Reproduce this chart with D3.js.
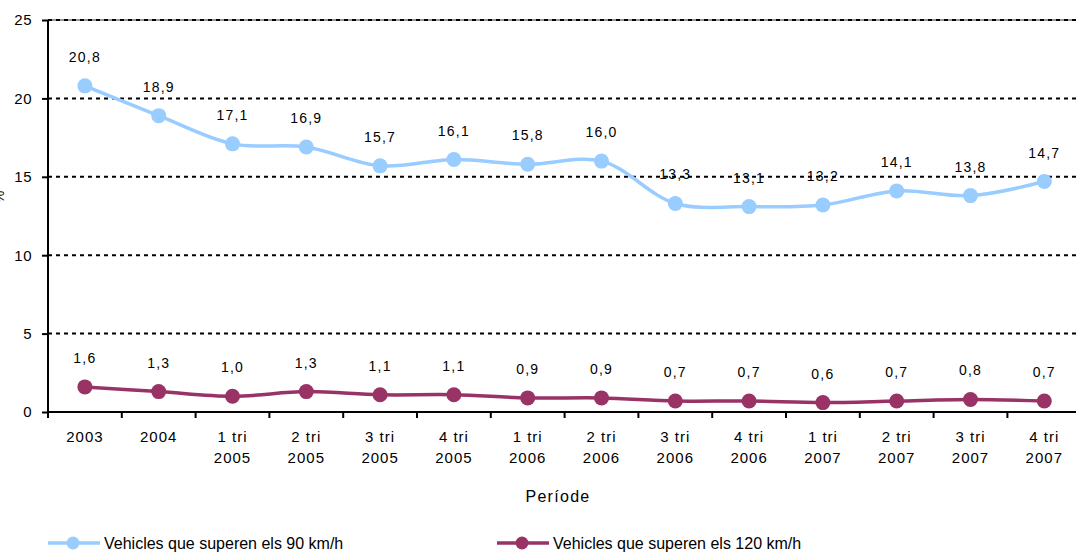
<!DOCTYPE html>
<html><head><meta charset="utf-8">
<script src="https://cdn.jsdelivr.net/npm/d3@7"></script>
<style>body{margin:0;background:#fff;}svg{display:block;}</style>
</head><body><svg id="c" width="1076" height="552" font-family="Liberation Sans, Arial, sans-serif"></svg>
<script>
const categories = [["2003"],["2004"],["1 tri","2005"],["2 tri","2005"],["3 tri","2005"],["4 tri","2005"],["1 tri","2006"],["2 tri","2006"],["3 tri","2006"],["4 tri","2006"],["1 tri","2007"],["2 tri","2007"],["3 tri","2007"],["4 tri","2007"]];
const series90 = [20.8,18.9,17.1,16.9,15.7,16.1,15.8,16.0,13.3,13.1,13.2,14.1,13.8,14.7];
const series120 = [1.6,1.3,1.0,1.3,1.1,1.1,0.9,0.9,0.7,0.7,0.6,0.7,0.8,0.7];
const yTicks = [0,5,10,15,20,25];
const seriesNames = ["Vehicles que superen els 90 km/h","Vehicles que superen els 120 km/h"];
const colors = ["#99ccff","#993366"];

(function(){
const svg = d3.select("#c");
const mLeft = 48, mTop = 20, mBottom = 412, band = 73.8;
const keys = categories.map((c,i)=>i);
const x = d3.scaleBand().domain(keys).range([mLeft, mLeft + band*categories.length]);
const y = d3.scaleLinear().domain([0,25]).range([mBottom, mTop]);
const cx = i => x(i) + x.bandwidth()/2;
const fmt = v => d3.format(".1f")(v).replace(".", ",");

svg.append("line").attr("x1",mLeft).attr("x2",1076).attr("y1",y(25)).attr("y2",y(25)).attr("stroke","#999").attr("stroke-width",2);
svg.append("g").selectAll("line").data(yTicks.filter(t=>t>0)).join("line")
  .attr("x1",mLeft).attr("x2",1076).attr("y1",d=>y(d)).attr("y2",d=>y(d))
  .attr("stroke","#000").attr("stroke-width",2).attr("stroke-dasharray","4,4");

const ya = svg.append("g").attr("transform",`translate(${mLeft},0)`)
  .call(d3.axisLeft(y).tickValues(yTicks).tickSize(6).tickPadding(10).tickFormat(d=>d));
ya.select(".domain").attr("stroke","#000").attr("stroke-width",2).attr("d",`M0,${y(25)}V${y(0)}`);
ya.selectAll(".tick line").attr("stroke","#000").attr("stroke-width",2);
ya.selectAll("text").attr("font-size",15).attr("fill","#000").attr("letter-spacing","0.5px")
  .attr("font-family","Liberation Sans, Arial, sans-serif");

const xa = svg.append("g").attr("transform",`translate(0,${mBottom})`);
xa.append("line").attr("x1",mLeft).attr("x2",1076).attr("stroke","#000").attr("stroke-width",2);
xa.selectAll("line.t").data(d3.range(categories.length+1)).join("line").attr("class","t")
  .attr("x1",i=>mLeft+i*x.step()).attr("x2",i=>mLeft+i*x.step()).attr("y1",0).attr("y2",6)
  .attr("stroke","#000").attr("stroke-width",2);
const xl = xa.selectAll("text").data(categories).join("text")
  .attr("text-anchor","middle").attr("font-size",15).attr("letter-spacing","1px").attr("fill","#000");
xl.each(function(c,i){
  const t = d3.select(this);
  c.forEach((s,j)=>t.append("tspan").attr("x",cx(i)).attr("y",30+j*21).text(s));
});

svg.append("text").attr("x",558).attr("y",502).attr("text-anchor","middle").attr("font-size",16)
  .attr("letter-spacing","1.3px").text("Període");
svg.append("text").attr("transform","translate(4,197) rotate(-90)").attr("text-anchor","middle").attr("font-size",14).text("%");

const gen = d3.line().x((d,i)=>cx(i)).y(d=>y(d)).curve(d3.curveCatmullRom.alpha(0.5));
[[series90,colors[0]],[series120,colors[1]]].forEach(([data,col])=>{
  svg.append("path").datum(data).attr("d",gen).attr("fill","none").attr("stroke",col).attr("stroke-width",3.5);
  svg.append("g").selectAll("circle").data(data).join("circle")
    .attr("cx",(d,i)=>cx(i)).attr("cy",d=>y(d)).attr("r",7.5).attr("fill",col);
  svg.append("g").selectAll("text").data(data).join("text")
    .attr("x",(d,i)=>cx(i)).attr("y",d=>y(d)-24).attr("text-anchor","middle")
    .attr("font-size",14).attr("letter-spacing","1.2px").attr("fill","#000").text(fmt);
});

const leg = [{x0:48,name:seriesNames[0],col:colors[0]},{x0:497,name:seriesNames[1],col:colors[1]}];
leg.forEach(l=>{
  const g = svg.append("g");
  g.append("line").attr("x1",l.x0).attr("x2",l.x0+52).attr("y1",543).attr("y2",543).attr("stroke",l.col).attr("stroke-width",3.5);
  g.append("circle").attr("cx",l.x0+25).attr("cy",543).attr("r",6.5).attr("fill",l.col);
  g.append("text").attr("x",l.x0+56).attr("y",549).attr("font-size",16).attr("fill","#000").text(l.name);
});
})();
</script></body></html>
